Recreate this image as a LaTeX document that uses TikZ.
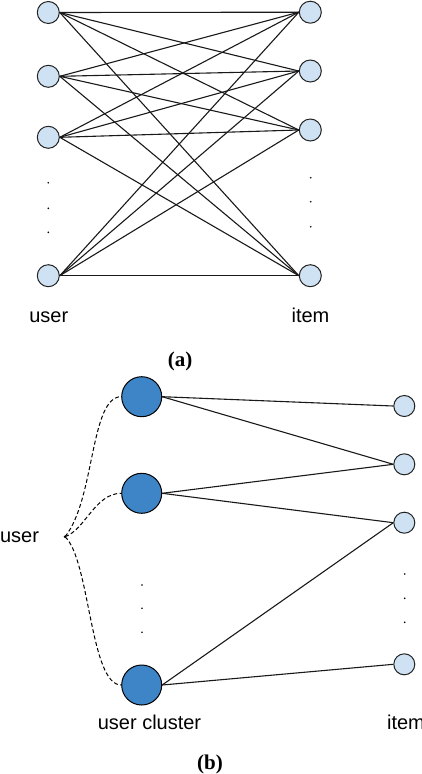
\documentclass[tikz,border=0pt]{standalone}
\usepackage{fontspec}
\setmainfont{Liberation Serif}
\newfontfamily\labelfont{Liberation Sans}
\definecolor{itemfill}{HTML}{CFE2F3}
\definecolor{clusterfill}{HTML}{3D85C6}
\definecolor{rim}{HTML}{222222}
\begin{document}
\begin{tikzpicture}[x=1pt,y=-1pt,
  smallnode/.style={circle, draw=rim, fill=itemfill, line width=1pt, minimum size=22pt, inner sep=0pt},
  clusternode/.style={circle, draw=black, fill=clusterfill, line width=1pt, minimum size=40pt, inner sep=0pt},
  edgeline/.style={line width=1.1pt, draw=black!90},
  dashcurve/.style={line width=1pt, dash pattern=on 4pt off 2.5pt},
  lbl/.style={font=\labelfont\fontsize{20}{24}\selectfont, anchor=base, inner sep=0pt},
  caption/.style={font=\bfseries\fontsize{21}{24}\selectfont, anchor=base, inner sep=0pt},
  dotmark/.style={fill=black}]
\useasboundingbox (0,0) rectangle (422,774);

% ---------- (a) ----------
\node[smallnode] (u1) at (48.3,12.5) {};
\node[smallnode] (u2) at (48.3,76.3) {};
\node[smallnode] (u3) at (48.3,137.3) {};
\node[smallnode] (u4) at (48.3,275.7) {};
\node[smallnode] (i1) at (310.3,12.2) {};
\node[smallnode] (i2) at (310.3,71) {};
\node[smallnode] (i3) at (310.3,130) {};
\node[smallnode] (i4) at (310.3,275.7) {};
\foreach \a in {1,...,4}{
  \foreach \b in {1,...,4}{
    \draw[edgeline] (u\a.east) -- (i\b.west);
  }
}
\foreach \y in {182.7,208.3,232.3} \fill[dotmark] (48.3,\y) circle (0.9);
\foreach \y in {177.7,201.7,226.7} \fill[dotmark] (310.7,\y) circle (0.9);
\node[lbl] (ulabel) at (48.8,322) {user};
\node[lbl] (ilabel) at (310.5,322) {item};
\node[caption] (capa) at (180,366) {(a)};

% ---------- (b) ----------
\node[clusternode] (c1) at (141.7,396.7) {};
\node[clusternode] (c2) at (141.7,493.3) {};
\node[clusternode] (c3) at (141.7,685) {};
\node[smallnode, minimum size=21pt] (j1) at (404.3,406) {};
\node[smallnode, minimum size=21pt] (j2) at (404.3,464.3) {};
\node[smallnode, minimum size=21pt] (j3) at (404.3,522.7) {};
\node[smallnode, minimum size=21pt] (j4) at (404.3,664.3) {};
\draw[edgeline] (c1.east) -- (j1.west);
\draw[edgeline] (c1.east) -- (j2.west);
\draw[edgeline] (c2.east) -- (j2.west);
\draw[edgeline] (c2.east) -- (j3.west);
\draw[edgeline] (c3.east) -- (j3.west);
\draw[edgeline] (c3.east) -- (j4.west);
\foreach \y in {585,608.3,632.3} \fill[dotmark] (142,\y) circle (0.9);
\foreach \y in {574,598.3,622.3} \fill[dotmark] (404.7,\y) circle (0.9);

\coordinate (junction) at (65,536.7);
\fill (junction) circle (1.3);
\draw[dashcurve] (junction) .. controls (95,500) and (90,396.7) .. (c1.west);
\draw[dashcurve] (junction) .. controls (85,530) and (95,493.3) .. (c2.west);
\draw[dashcurve] (junction) .. controls (90,560) and (90,685) .. (c3.west);

\node[lbl] (ublabel) at (19.5,542) {user};
\node[lbl] (clabel) at (149.5,729.5) {user cluster};
\node[lbl] (iblabel) at (406,729) {item};
\node[caption] (capb) at (210,769) {(b)};
\end{tikzpicture}
\end{document}
